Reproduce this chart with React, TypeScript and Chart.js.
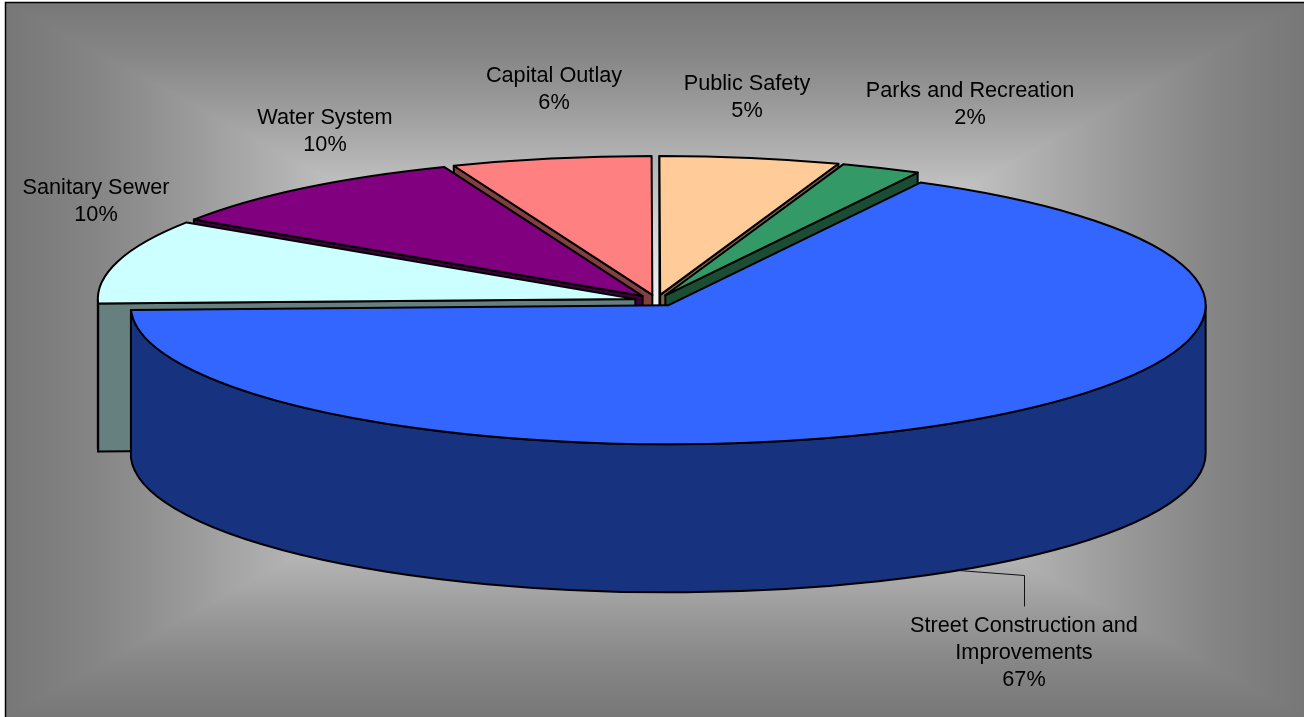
import React, { useEffect, useRef } from "react";
import { Chart, registerables } from "chart.js";

Chart.register(...registerables);

const categories = [
  ["Street Construction and", "Improvements"],
  ["Sanitary Sewer"],
  ["Water System"],
  ["Capital Outlay"],
  ["Public Safety"],
  ["Parks and Recreation"],
];
const shares = [66.7, 9.8, 9.7, 6.0, 5.4, 2.4];
const topColors = ["#3366FF", "#CCFFFF", "#800080", "#FF8080", "#FFCC99", "#339966"];
const wallColors = ["#17327F", "#668080", "#400040", "#804040", "#80664D", "#1A4D33"];
const startRotation = 28;

const WIDTH = 1305;
const HEIGHT = 717;
const PIE = { cx: 656.5, cy: 300.5, rx: 537.5, ry: 139, depth: 148, explode: 22 };
const FONT = '21.7px "Liberation Sans", Arial, sans-serif';
const LINE_HEIGHT = 27;
// Centre of the first line of each label.
const labelAnchors = [
  [1024, 626],
  [96, 188],
  [325, 118],
  [554, 76],
  [747, 84],
  [970, 91],
];
const leader = [
  [958, 570],
  [1024, 575],
  [1024, 606],
];
const bgStops: [number, string][] = [
  [0, "#777777"],
  [0.14, "#858585"],
  [0.28, "#999999"],
  [0.42, "#b0b0b0"],
  [0.6, "#cfcfcf"],
  [0.82, "#eeeeee"],
  [1, "#ffffff"],
];

function sliceCenter(arc: any) {
  const mid = (arc.startAngle + arc.endAngle) / 2;
  return {
    x: PIE.cx + PIE.explode * Math.cos(mid),
    y: PIE.cy + (PIE.explode * PIE.ry * Math.sin(mid)) / PIE.rx,
  };
}

function rimPoint(c: { x: number; y: number }, a: number) {
  return { x: c.x + PIE.rx * Math.cos(a), y: c.y + PIE.ry * Math.sin(a) };
}

function drawFace(ctx: CanvasRenderingContext2D, c: { x: number; y: number }, a: number, color: string) {
  const p = rimPoint(c, a);
  ctx.beginPath();
  ctx.moveTo(c.x, c.y);
  ctx.lineTo(p.x, p.y);
  ctx.lineTo(p.x, p.y + PIE.depth);
  ctx.lineTo(c.x, c.y + PIE.depth);
  ctx.closePath();
  ctx.fillStyle = color;
  ctx.fill();
  ctx.stroke();
}

function drawRim(ctx: CanvasRenderingContext2D, c: { x: number; y: number }, a0: number, a1: number, color: string) {
  const s = Math.max(a0, 0);
  const e = Math.min(a1, Math.PI);
  if (e <= s) return;
  ctx.beginPath();
  ctx.ellipse(c.x, c.y, PIE.rx, PIE.ry, 0, s, e);
  ctx.ellipse(c.x, c.y + PIE.depth, PIE.rx, PIE.ry, 0, e, s, true);
  ctx.closePath();
  ctx.fillStyle = color;
  ctx.fill();
  ctx.stroke();
}

const pie3d = {
  id: "pie3d",
  beforeDraw(chart: any) {
    const ctx: CanvasRenderingContext2D = chart.ctx;
    const L = 5, T = 2, R = 1304, B = 717;
    const mx = (L + R) / 2;
    const my = 358;
    const gradient = (x0: number, y0: number, x1: number, y1: number) => {
      const grad = ctx.createLinearGradient(x0, y0, x1, y1);
      bgStops.forEach(([o, col]) => grad.addColorStop(o, col));
      return grad;
    };
    ctx.save();
    ctx.fillStyle = "#ffffff";
    ctx.fillRect(0, 0, WIDTH, HEIGHT);
    ctx.beginPath();
    ctx.rect(L, T, R - L, B - T);
    ctx.clip();
    ctx.fillStyle = gradient(0, T, 0, my);
    ctx.fillRect(L, T, R - L, my - T);
    ctx.fillStyle = gradient(0, B, 0, my);
    ctx.fillRect(L, my, R - L, B - my);
    const sides: [number, number][] = [
      [L, mx],
      [R, mx],
    ];
    for (const [edge, centre] of sides) {
      ctx.fillStyle = gradient(edge, 0, centre, 0);
      ctx.beginPath();
      ctx.moveTo(edge, T);
      ctx.lineTo(edge, B);
      ctx.lineTo(centre, my);
      ctx.closePath();
      ctx.fill();
    }
    ctx.restore();
    ctx.save();
    ctx.strokeStyle = "#000000";
    ctx.lineWidth = 1.5;
    ctx.beginPath();
    ctx.moveTo(5.5, HEIGHT + 2);
    ctx.lineTo(5.5, 2.5);
    ctx.lineTo(1304, 2.5);
    ctx.stroke();
    ctx.restore();
  },
  beforeDatasetDraw(chart: any, args: any) {
    const ctx: CanvasRenderingContext2D = chart.ctx;
    const arcs: any[] = chart.getDatasetMeta(args.index).data;
    ctx.save();
    ctx.strokeStyle = "#000000";
    ctx.lineWidth = 2;
    ctx.lineJoin = "round";
    // Walls, from the back of the pie to the front; only faces turned to the viewer.
    const order = arcs
      .map((arc, i) => ({ arc, i }))
      .sort((a, b) => Math.sin((a.arc.startAngle + a.arc.endAngle) / 2) - Math.sin((b.arc.startAngle + b.arc.endAngle) / 2));
    for (const { arc, i } of order) {
      const c = sliceCenter(arc);
      if (Math.cos(arc.startAngle) < -1e-6) drawFace(ctx, c, arc.startAngle, wallColors[i]);
      if (Math.cos(arc.endAngle) > 1e-6) drawFace(ctx, c, arc.endAngle, wallColors[i]);
      drawRim(ctx, c, arc.startAngle, arc.endAngle, wallColors[i]);
    }
    // Top faces: the library's own arcs, flattened onto the ellipse.
    arcs.forEach((arc) => {
      const c = sliceCenter(arc);
      const R = arc.outerRadius;
      ctx.save();
      ctx.translate(c.x, c.y);
      ctx.scale(PIE.rx / R, PIE.ry / R);
      ctx.translate(-arc.x, -arc.y);
      arc.draw(ctx);
      ctx.restore();
      ctx.beginPath();
      ctx.moveTo(c.x, c.y);
      ctx.ellipse(c.x, c.y, PIE.rx, PIE.ry, 0, arc.startAngle, arc.endAngle);
      ctx.closePath();
      ctx.stroke();
    });
    ctx.restore();
    return false;
  },
  afterDatasetsDraw(chart: any) {
    const ctx: CanvasRenderingContext2D = chart.ctx;
    const total = shares.reduce((a, b) => a + b, 0);
    ctx.save();
    ctx.strokeStyle = "#111111";
    ctx.lineWidth = 1;
    ctx.beginPath();
    leader.forEach(([x, y], i) => (i ? ctx.lineTo(x + 0.5, y + 0.5) : ctx.moveTo(x + 0.5, y + 0.5)));
    ctx.stroke();
    ctx.fillStyle = "#000000";
    ctx.font = FONT;
    ctx.textAlign = "center";
    ctx.textBaseline = "middle";
    categories.forEach((lines, i) => {
      const [x, y] = labelAnchors[i];
      const rows = [...lines, `${Math.round((shares[i] / total) * 100)}%`];
      rows.forEach((t, k) => ctx.fillText(t, x, y + k * LINE_HEIGHT));
    });
    ctx.restore();
  },
};

export default function App() {
  const ref = useRef<HTMLCanvasElement | null>(null);
  useEffect(() => {
    if (!ref.current) return;
    const chart = new Chart(ref.current, {
      type: "pie",
      data: {
        labels: categories.map((c) => c.join(" ")),
        datasets: [
          {
            data: shares,
            backgroundColor: topColors,
            borderWidth: 0,
            clip: false,
          } as any,
        ],
      },
      options: {
        responsive: false,
        animation: false,
        rotation: startRotation,
        layout: { padding: 0 },
        events: [],
        plugins: { legend: { display: false }, tooltip: { enabled: false } },
      } as any,
      plugins: [pie3d as any],
    });
    return () => chart.destroy();
  }, []);
  return (
    <div style={{ position: "absolute", left: 0, top: 0, width: WIDTH, height: HEIGHT, overflow: "hidden" }}>
      <canvas ref={ref} width={WIDTH} height={HEIGHT} style={{ display: "block", width: WIDTH, height: HEIGHT }} />
    </div>
  );
}
